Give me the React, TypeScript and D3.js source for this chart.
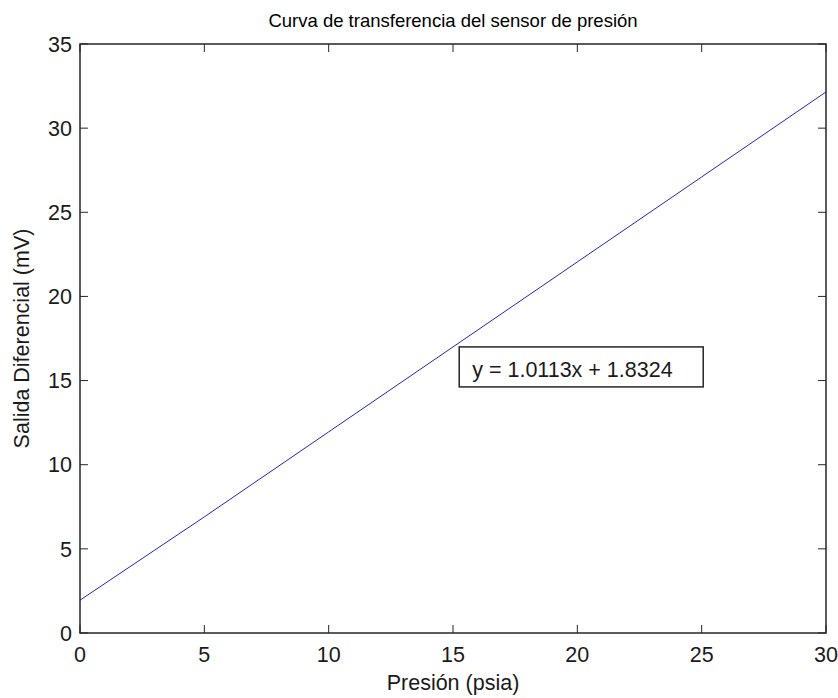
import { useMemo } from 'react'
import * as d3 from 'd3'

const W = 838
const H = 698
const MARGIN = { top: 44, right: 12, bottom: 65, left: 80 }

const PRESSURE = [0, 5, 10, 15, 20, 25, 30]
const OUTPUT_MV = [1.95, 6.9, 11.95, 17.0, 22.05, 27.1, 32.15]

const X_TICKS = [0, 5, 10, 15, 20, 25, 30]
const Y_TICKS = [0, 5, 10, 15, 20, 25, 30, 35]

const TITLE = 'Curva de transferencia del sensor de presión'
const X_LABEL = 'Presión (psia)'
const Y_LABEL = 'Salida Diferencial (mV)'
const FIT_LABEL = 'y = 1.0113x + 1.8324'
// annotation box anchor (data coords, top-left)
const FIT_POS = { x: 15.25, y: 17.0 }

const FONT = "'Liberation Sans', Arial, sans-serif"
const AXIS_COLOR = '#262626'
const TEXT_COLOR = '#1a1a1a'
const LINE_COLOR = '#2424c0'
const TICK_LEN = 8
const LABEL_SIZE = 21.5

export default function App() {
  const w = W - MARGIN.left - MARGIN.right
  const h = H - MARGIN.top - MARGIN.bottom

  const x = useMemo(() => d3.scaleLinear().domain([0, 30]).range([0, w]), [w])
  const y = useMemo(() => d3.scaleLinear().domain([0, 35]).range([h, 0]), [h])

  const pts = PRESSURE.map((p, i) => [p, OUTPUT_MV[i]] as [number, number])
  const line = d3
    .line<[number, number]>()
    .x((d) => x(d[0]))
    .y((d) => y(d[1]))

  const bx = x(FIT_POS.x)
  const by = y(FIT_POS.y)

  return (
    <svg width={W} height={H} style={{ position: 'absolute', left: 0, top: 0, background: '#fff' }} fontFamily={FONT}>
      <text x={MARGIN.left + w / 2} y={27} textAnchor="middle" fontSize={18.5} fill="#000">
        {TITLE}
      </text>
      <g transform={`translate(${MARGIN.left},${MARGIN.top})`}>
        <path d={line(pts) ?? ''} fill="none" stroke={LINE_COLOR} strokeWidth={1} />

        {/* box */}
        <rect x={0} y={0} width={w} height={h} fill="none" stroke={AXIS_COLOR} strokeWidth={1.5} />

        {X_TICKS.map((t) => (
          <g key={`x${t}`}>
            <line x1={x(t)} x2={x(t)} y1={h} y2={h - TICK_LEN} stroke={AXIS_COLOR} />
            <line x1={x(t)} x2={x(t)} y1={0} y2={TICK_LEN} stroke={AXIS_COLOR} />
            <text x={x(t)} y={h + 29} textAnchor="middle" fontSize={LABEL_SIZE} fill={TEXT_COLOR}>
              {t}
            </text>
          </g>
        ))}
        {Y_TICKS.map((t) => (
          <g key={`y${t}`}>
            <line x1={0} x2={TICK_LEN} y1={y(t)} y2={y(t)} stroke={AXIS_COLOR} />
            <line x1={w} x2={w - TICK_LEN} y1={y(t)} y2={y(t)} stroke={AXIS_COLOR} />
            <text x={-8} y={y(t)} dy="0.36em" textAnchor="end" fontSize={LABEL_SIZE} fill={TEXT_COLOR}>
              {t}
            </text>
          </g>
        ))}

        {/* fit annotation */}
        <rect x={bx} y={by} width={244} height={40} fill="#fff" stroke={AXIS_COLOR} strokeWidth={1.5} />
        <text x={bx + 13} y={by + 30} fontSize={LABEL_SIZE} fill={TEXT_COLOR}>
          {FIT_LABEL}
        </text>

        <text x={w / 2} y={h + 57} textAnchor="middle" fontSize={LABEL_SIZE} fill={TEXT_COLOR}>
          {X_LABEL}
        </text>
        <text
          transform={`translate(${-51},${h / 2}) rotate(-90)`}
          textAnchor="middle"
          fontSize={LABEL_SIZE}
          fill={TEXT_COLOR}
        >
          {Y_LABEL}
        </text>
      </g>
    </svg>
  )
}
